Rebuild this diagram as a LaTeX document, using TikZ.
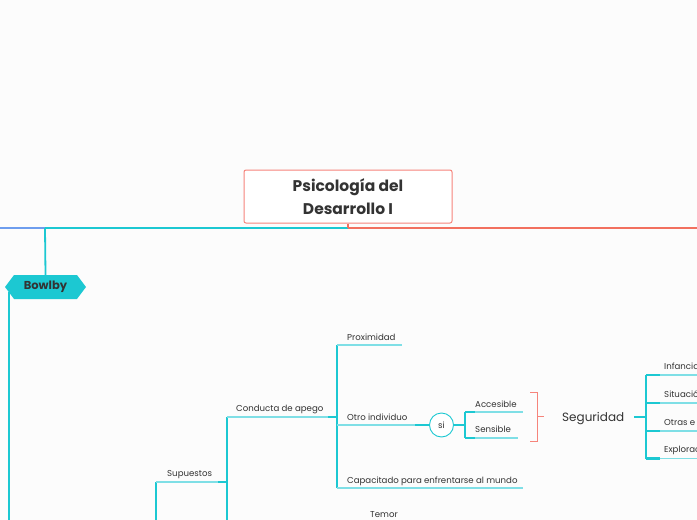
\documentclass[tikz,border=0pt]{standalone}
\usepackage{fontspec}
\setmainfont{Poppins}
\usetikzlibrary{shapes.symbols}
\definecolor{tealA}{HTML}{1CC8D2}
\definecolor{tealL}{HTML}{7FDFE6}
\definecolor{salmonA}{HTML}{F2705F}
\definecolor{salmonB}{HTML}{F6847B}
\definecolor{blueA}{HTML}{6E9DEE}
\definecolor{txt}{HTML}{333333}
\definecolor{bg}{HTML}{FCFCFC}
\begin{document}
\begin{tikzpicture}[x=1pt,y=-1pt,
  lbl/.style={font=\fontsize{8.6}{10}\selectfont, text=txt, inner sep=0pt, anchor=base west},
  trunk/.style={draw=tealA, line width=1.8pt},
  leaf/.style={draw=tealL, line width=1.4pt},
  stub/.style={draw=tealA, line width=2.6pt},
  brk/.style={draw=salmonB, line width=0.9pt}]
\path[fill=bg] (0,0) rectangle (697,520);
\useasboundingbox (0,0) rectangle (697,520);
\clip (0,0) rectangle (697,520);

% main horizontal line
\coordinate (L0) at (0,228);
\coordinate (Lb) at (45,228);
\coordinate (Lc) at (348,228);
\coordinate (L1) at (697,228);
\draw[draw=blueA, line width=2pt] (L0) -- (Lb);
\draw[draw=tealA, line width=2pt] (Lb) -- (Lc);
\draw[draw=salmonA, line width=2pt] (Lc) -- (L1);

% title
\node[draw=salmonB, line width=1pt, rounded corners=2pt, fill=white,
      minimum width=208pt, minimum height=53pt, align=center, text=txt,
      font=\bfseries\fontsize{15.5}{23}\selectfont] (title) at (348,196.5)
      {Psicología del\\Desarrollo I};
\draw[draw=salmonA, line width=1.2pt] (title.south) -- (Lc);

% Bowlby
\coordinate (bl) at (9,292);
\coordinate (blEnd) at (9,521);
\draw[trunk] (bl) -- (blEnd);
\node[signal, signal to=west and east, signal pointer angle=106, fill=tealA,
      minimum width=81pt, minimum height=24pt, inner sep=0pt, text=txt,
      font=\bfseries\fontsize{11.5}{12}\selectfont] (bowlby) at (45.5,287) {Bowlby};
\draw[trunk] (Lb) -- (bowlby.north);

% Supuestos
\node[lbl] (sup) at (167,476) {Supuestos};
\coordinate (supL) at (156,482);
\coordinate (supR) at (227,482);
\coordinate (supS) at (218,482);
\coordinate (supD) at (156,521);
\draw[trunk] (supD) -- (supL);
\draw[leaf] (supL) -- (supR);
\draw[stub] (supS) -- (supR);

% vertical for Supuestos children
\coordinate (v1T) at (227,417);
\coordinate (v1B) at (227,521);
\draw[trunk] (v1T) -- (v1B);

% Conducta de apego
\node[lbl] (cond) at (236,411) {Conducta de apego};
\coordinate (condR) at (337,417);
\coordinate (condS) at (328,417);
\draw[leaf] (v1T) -- (condR);
\draw[stub] (condS) -- (condR);

% vertical for conducta children
\coordinate (v2T) at (337,345);
\coordinate (v2B) at (337,488);
\draw[trunk] (v2T) -- (v2B);

% Proximidad
\node[lbl] (prox) at (347,340) {Proximidad};
\coordinate (proxR) at (402,345);
\draw[leaf] (v2T) -- (proxR);

% Otro individuo
\node[lbl] (otro) at (347,420) {Otro individuo};
\coordinate (otroL) at (337,425);
\coordinate (otroS) at (415,425);
\node[circle, draw=tealA, fill=white, line width=0.9pt, minimum size=24pt, inner sep=0pt,
      font=\fontsize{8.6}{10}\selectfont, text=txt] (si) at (441.5,425) {si};
\draw[leaf] (otroL) -- (otroS);
\draw[stub] (otroS) -- (si.west);

% si children
\coordinate (v3T) at (465,412);
\coordinate (v3M) at (465,425);
\coordinate (v3B) at (465,438);
\draw[stub] (si.east) -- (v3M);
\draw[trunk] (v3T) -- (v3B);
\node[lbl] (acc) at (475,407) {Accesible};
\node[lbl] (sen) at (475,432) {Sensible};
\coordinate (accR) at (523,412);
\coordinate (senR) at (518,438);
\coordinate (accS) at (475,412);
\coordinate (senS) at (475,438);
\draw[leaf] (v3T) -- (accR);
\draw[leaf] (v3B) -- (senR);
\draw[stub] (v3T) -- (accS);
\draw[stub] (v3B) -- (senS);

% Capacitado
\node[lbl] (cap) at (347,483) {Capacitado para enfrentarse al mundo};
\coordinate (capR) at (523,488);
\draw[leaf] (v2B) -- (capR);

% Temor
\node[lbl] (temor) at (370,517) {Temor};

% bracket
\coordinate (bA) at (530,392);
\coordinate (bB) at (537.5,392);
\coordinate (bC) at (537.5,441);
\coordinate (bD) at (530,441);
\coordinate (bM) at (537.5,416.5);
\coordinate (bT) at (544,416.5);
\draw[brk] (bA) -- (bB) -- (bC) -- (bD);
\draw[brk] (bM) -- (bT);

% Seguridad
\node[font=\fontsize{12}{14}\selectfont, text=txt, inner sep=0pt, anchor=base west] (seg) at (562,421.5) {Seguridad};
\coordinate (segS) at (634,417);
\coordinate (v4M) at (646,417);
\coordinate (v4T) at (646,375);
\coordinate (v4B) at (646,458.5);
\draw[stub] (segS) -- (v4M);
\draw[trunk] (v4T) -- (v4B);

\foreach \yy/\nm/\tt in {375/inf/Infancia, 403/sit/Situación, 431/otr/Otras e, 458.5/exp/Exploración}{
  \coordinate (\nm L) at (646,\yy);
  \coordinate (\nm S) at (660,\yy);
  \coordinate (\nm R) at (698,\yy);
  \draw[leaf] (\nm L) -- (\nm R);
  \draw[stub] (\nm L) -- (\nm S);
  \node[lbl] (\nm) at (664,\yy-6) {\tt};
}
\end{tikzpicture}
\end{document}
